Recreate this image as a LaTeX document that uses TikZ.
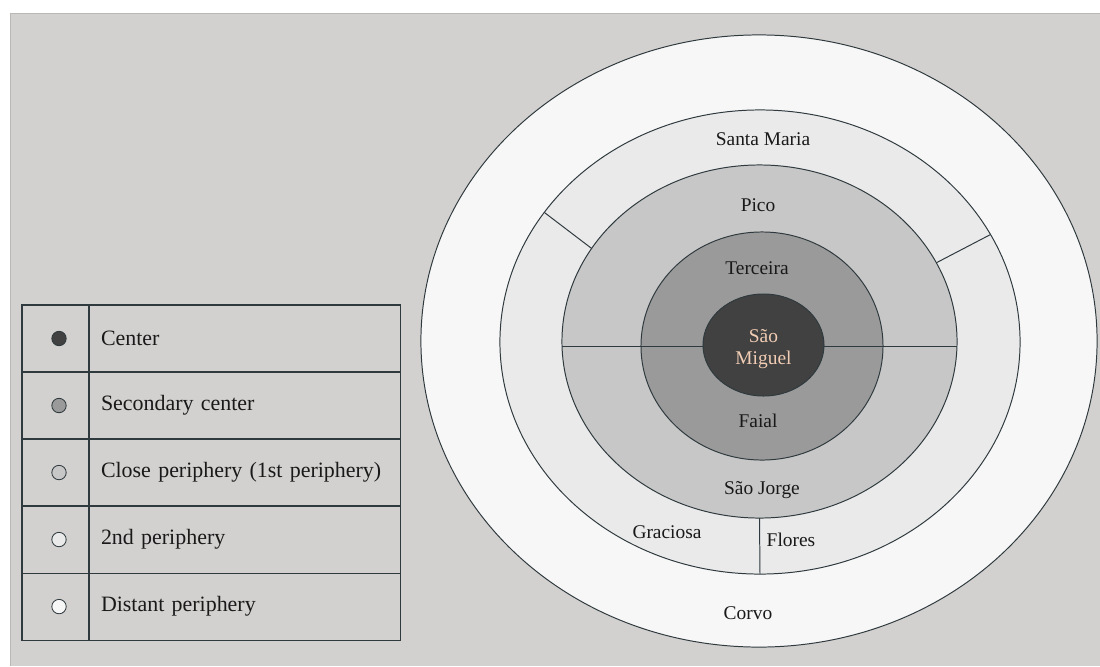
\documentclass[tikz,border=0pt]{standalone}
\usepackage{fontspec}
\setmainfont{Liberation Serif}
\usetikzlibrary{positioning, shapes.geometric}

\definecolor{paper}{HTML}{D3D1D0}
\definecolor{edge}{HTML}{2F3A3E}
\definecolor{corefill}{HTML}{414141}
\definecolor{secfill}{HTML}{9A9A9A}
\definecolor{closefill}{HTML}{C7C7C7}
\definecolor{midfill}{HTML}{EAEAEA}
\definecolor{farfill}{HTML}{F8F7F7}
\definecolor{peach}{HTML}{F2CDB5}

\begin{document}
\begin{tikzpicture}[
    x=0.025cm, y=-0.025cm,
    % Styles
    ring/.style={
        draw=edge, ellipse, inner sep=0pt, outer sep=0pt, line width=0.7pt
    },
    isle/.style={font=\fontsize{13.8}{16}\selectfont, text=black!90, align=center},
    swatch/.style={
        draw=edge, minimum width=1.675cm, minimum height=1.675cm,
        outer sep=0pt, inner sep=0pt, line width=0.8pt
    },
    entry/.style={
        draw=edge, minimum width=7.775cm, minimum height=1.675cm,
        outer sep=0pt, inner xsep=0.3cm, text width=7.175cm, align=left,
        line width=0.8pt, font=\fontsize{15.6}{19}\selectfont, text=black!90
    },
    dot/.style={circle, draw=edge, inner sep=0pt, minimum size=0.36cm, line width=0.6pt},
    divider/.style={draw=edge, line width=0.7pt}
]

    \useasboundingbox (0,0) rectangle (1100,666);

    % --- Sheet ---
    \fill[white] (0,0) rectangle (1100,666);
    \fill[paper] (10,13) rectangle (1100,666);
    \draw[paper!88!black, line width=1.2pt] (10.5,666) -- (10.5,13.5) -- (1100,13.5);

    % --- Rings ---
    \node[ring, fill=farfill, minimum width=16.9cm, minimum height=15.3cm] (outer) at (759,341) {};
    \node[ring, fill=midfill, minimum width=13cm, minimum height=11.6cm] (second) at (760,342) {};
    \node[ring, fill=closefill, minimum width=9.875cm, minimum height=8.825cm] (first) at (759.5,341.5) {};
    \node[ring, fill=secfill, minimum width=6.05cm, minimum height=5.7cm] (secondary) at (762,346) {};

    % split of the close periphery
    \draw[divider] (first.west |- 0,346) -- (763.5,346);
    \draw[divider] (763.5,346) -- (first.east |- 0,346);

    \node[ring, fill=corefill, minimum width=3.025cm, minimum height=2.55cm] (core) at (763.5,345) {};

    % split of the 2nd periphery
    \draw[divider] (second.149) -- (first.151);
    \draw[divider] (second.25) -- (first.24);
    \draw[divider] (first.south) -- (second.south);

    % --- Islands ---
    \node[isle] (santamaria) at (763,139) {Santa Maria};
    \node[isle] (pico) at (758,205) {Pico};
    \node[isle] (terceira) at (757,268) {Terceira};
    \node[isle, text=peach] (saomiguel) at ([yshift=-3]core.center) {São\\Miguel};
    \node[isle] (faial) at (758,421) {Faial};
    \node[isle] (saojorge) at (762,490) {São Jorge};
    \node[isle] (graciosa) at (667,532) {Graciosa};
    \node[isle] (flores) at (791,540) {Flores};
    \node[isle] (corvo) at (748,613) {Corvo};

    % --- Legend ---
    \node[swatch] (sw1) at (55.5,338.5) {};
    \node[entry, right=0pt of sw1] (tx1) {Center};
    \node[swatch, below=0pt of sw1] (sw2) {};
    \node[entry, right=0pt of sw2] (tx2) {Secondary center};
    \node[swatch, below=0pt of sw2] (sw3) {};
    \node[entry, right=0pt of sw3] (tx3) {\mbox{Close periphery (1st periphery)}};
    \node[swatch, below=0pt of sw3] (sw4) {};
    \node[entry, right=0pt of sw4] (tx4) {2nd periphery};
    \node[swatch, below=0pt of sw4] (sw5) {};
    \node[entry, right=0pt of sw5] (tx5) {Distant periphery};

    \node[dot, fill=corefill] (d1) at ([xshift=2.5]sw1.center) {};
    \node[dot, fill=secfill] (d2) at ([xshift=2.5]sw2.center) {};
    \node[dot, fill=closefill] (d3) at ([xshift=2.5]sw3.center) {};
    \node[dot, fill=midfill] (d4) at ([xshift=2.5]sw4.center) {};
    \node[dot, fill=farfill] (d5) at ([xshift=2.5]sw5.center) {};

\end{tikzpicture}
\end{document}
